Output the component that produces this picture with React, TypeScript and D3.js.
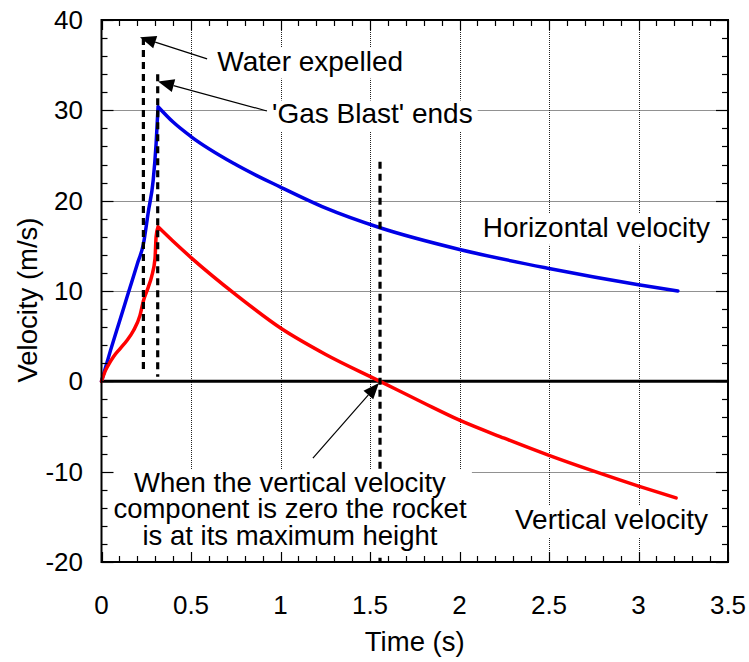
import React, { useEffect, useRef } from 'react';
import * as d3 from 'd3';

const W = 749, H = 662;

// Horizontal velocity (blue): powered phase, then coasting phase
const horizRiseTime = [0, 0.05, 0.1, 0.15, 0.2, 0.234, 0.261, 0.289, 0.305, 0.316];
const horizRiseVel = [0, 3.4, 6.6, 9.8, 13.0, 15.2, 18.7, 22.3, 26.3, 30.4];
const horizFallTime = [0.316, 0.4, 0.5, 0.75, 1.0, 1.25, 1.556, 2.0, 2.5, 3.0, 3.22];
const horizFallVel = [30.4, 28.7, 27.1, 24.0, 21.5, 19.2, 17.0, 14.6, 12.5, 10.7, 10.0];

// Vertical velocity (red): powered phase, then coasting phase
const vertRiseTime = [0, 0.02, 0.038, 0.066, 0.103, 0.141, 0.178, 0.215, 0.234, 0.261, 0.28, 0.299, 0.305, 0.316];
const vertRiseVel = [0, 1.1, 1.8, 2.7, 3.6, 4.5, 5.6, 7.3, 8.9, 10.4, 11.6, 13.6, 16.0, 17.1];
const vertFallTime = [0.316, 0.4, 0.5, 0.75, 1.0, 1.25, 1.556, 1.8, 2.0, 2.25, 2.5, 2.75, 3.0, 3.21];
const vertFallVel = [17.1, 15.5, 13.7, 9.6, 5.9, 3.0, 0, -2.4, -4.3, -6.3, -8.2, -9.95, -11.6, -12.9];

// Event markers (dashed verticals): time, top value, bottom value
const markerTime = [0.234, 0.314, 1.556];
const markerTop = [38, 34, 24.3];
const markerBottom = [1, 0.5, -20];

const xTicks = [0, 0.5, 1, 1.5, 2, 2.5, 3, 3.5];
const yTicks = [-20, -10, 0, 10, 20, 30, 40];

const xLabel = 'Time (s)';
const yLabel = 'Velocity (m/s)';

export default function App() {
  const ref = useRef<SVGSVGElement>(null);

  useEffect(() => {
    const svg = d3.select(ref.current);
    svg.selectAll('*').remove();
    const L = 101.5, R = 728, T = 20, B = 562;
    const x = d3.scaleLinear().domain([0, 3.5]).range([L, R]);
    const y = d3.scaleLinear().domain([-20, 40]).range([B, T]);
    const px = (v: number) => Math.round(v) + 0.5;
    const font = "'Liberation Sans', Arial, sans-serif";
    const fsTick = 26;
    const fsAnn = 28;

    svg.append('rect').attr('width', W).attr('height', H).attr('fill', 'white');

    // grid
    const grid = svg.append('g').attr('stroke', '#222').attr('stroke-width', 1).attr('stroke-dasharray', '1,1');
    xTicks.slice(1, -1).forEach(t => {
      grid.append('line').attr('x1', px(x(t))).attr('x2', px(x(t))).attr('y1', T).attr('y2', B);
    });
    yTicks.slice(1, -1).forEach(v => {
      if (v === 0) return;
      grid.append('line').attr('x1', L).attr('x2', R).attr('y1', px(y(v))).attr('y2', px(y(v)));
    });

    // zero line
    svg.append('line').attr('x1', L).attr('x2', R).attr('y1', y(0)).attr('y2', y(0))
      .attr('stroke', 'black').attr('stroke-width', 3);

    const line = d3.line<[number, number]>().x(d => x(d[0])).y(d => y(d[1])).curve(d3.curveMonotoneX);
    const series = [
      { t: [horizRiseTime, horizFallTime], v: [horizRiseVel, horizFallVel], c: '#0000e6' },
      { t: [vertRiseTime, vertFallTime], v: [vertRiseVel, vertFallVel], c: '#ff0000' },
    ];
    series.forEach(s => {
      const d = s.t.map((ts, k) => line(ts.map((t, i) => [t, s.v[k][i]]) as any)).join('');
      svg.append('path').attr('d', d).attr('fill', 'none').attr('stroke', s.c)
        .attr('stroke-width', 3.5).attr('stroke-linejoin', 'round').attr('stroke-linecap', 'round');
    });

    // dashed markers
    markerTime.forEach((t, i) => {
      svg.append('line').attr('x1', x(t)).attr('x2', x(t)).attr('y1', y(markerTop[i])).attr('y2', y(markerBottom[i]))
        .attr('stroke', 'black').attr('stroke-width', 3.2).attr('stroke-dasharray', '7,5');
    });

    // annotations: text with white background boxes
    const addText = (lines: string[], tx: number, ty: number, anchor: string, lh: number, fs: number) => {
      const g = svg.append('g');
      const txt = g.append('text').attr('font-family', font).attr('font-size', fs)
        .attr('text-anchor', anchor).attr('fill', 'black');
      lines.forEach((s, i) => {
        txt.append('tspan').attr('x', x(tx)).attr('y', y(ty) + i * lh).text(s);
      });
      const bb = (txt.node() as SVGTextElement).getBBox();
      g.insert('rect', 'text').attr('x', bb.x - 5).attr('y', bb.y + 2).attr('width', bb.width + 10)
        .attr('height', bb.height).attr('fill', 'white');
    };
    addText(['Water expelled'], 0.647, 34.4, 'start', 0, fsAnn);
    addText(["'Gas Blast' ends"], 0.953, 28.55, 'start', 0, fsAnn);
    addText(['Horizontal velocity'], 2.13, 16.0, 'start', 0, fsAnn);
    addText(['Vertical velocity'], 2.31, -16.35, 'start', 0, fsAnn);
    addText(['When the vertical velocity', 'component is zero the rocket', 'is at its maximum height'], 1.053, -12.25, 'middle', 26.5, 27.5);

    // arrows
    const arrows = [
      { from: [0.59, 35.7], to: [0.215, 38.1] },
      { from: [0.924, 29.93], to: [0.316, 33.2] },
      { from: [1.181, -8.49], to: [1.55, -0.18] },
    ];
    arrows.forEach(a => {
      const x1 = x(a.from[0]), y1 = y(a.from[1]), x2 = x(a.to[0]), y2 = y(a.to[1]);
      const ang = Math.atan2(y2 - y1, x2 - x1);
      const hl = 16, hw = 6.5;
      const bx = x2 - hl * Math.cos(ang), by = y2 - hl * Math.sin(ang);
      svg.append('line').attr('x1', x1).attr('y1', y1).attr('x2', bx).attr('y2', by)
        .attr('stroke', 'black').attr('stroke-width', 1.2);
      const p1 = [bx + hw * Math.sin(ang), by - hw * Math.cos(ang)];
      const p2 = [bx - hw * Math.sin(ang), by + hw * Math.cos(ang)];
      svg.append('path').attr('d', `M${x2},${y2}L${p1[0]},${p1[1]}L${p2[0]},${p2[1]}Z`).attr('fill', 'black');
    });

    // frame and ticks
    const fr = svg.append('g').attr('stroke', 'black');
    const minorX = d3.range(0, 3.5001, 0.1);
    const minorY = d3.range(-20, 40.001, 2);
    minorX.forEach(t => {
      const major = Math.abs(t * 2 - Math.round(t * 2)) < 1e-6;
      const len = major ? 10 : 6;
      fr.append('line').attr('x1', px(x(t))).attr('x2', px(x(t))).attr('y1', B).attr('y2', B - len).attr('stroke-width', 1.2);
      fr.append('line').attr('x1', px(x(t))).attr('x2', px(x(t))).attr('y1', T).attr('y2', T + len).attr('stroke-width', 1.2);
    });
    minorY.forEach(v => {
      const major = Math.abs(v % 10) < 1e-6;
      const len = major ? 12 : 6;
      fr.append('line').attr('x1', L).attr('x2', L + len).attr('y1', px(y(v))).attr('y2', px(y(v))).attr('stroke-width', 1.2);
      fr.append('line').attr('x1', R).attr('x2', R - len).attr('y1', px(y(v))).attr('y2', px(y(v))).attr('stroke-width', 1.2);
    });
    fr.append('rect').attr('x', L).attr('y', T).attr('width', R - L).attr('height', B - T)
      .attr('fill', 'none').attr('stroke-width', 2);

    // tick labels
    xTicks.forEach(t => {
      svg.append('text').attr('x', x(t)).attr('y', 614).attr('text-anchor', 'middle')
        .attr('font-family', font).attr('font-size', fsTick).text(String(t));
    });
    yTicks.forEach(v => {
      svg.append('text').attr('x', 83).attr('y', y(v)).attr('dy', '0.35em').attr('text-anchor', 'end')
        .attr('font-family', font).attr('font-size', fsTick).text(String(v));
    });
    svg.append('text').attr('x', (L + R) / 2).attr('y', 651).attr('text-anchor', 'middle')
      .attr('font-family', font).attr('font-size', 27.5).text(xLabel);
    svg.append('text').attr('transform', `translate(37,${(T + B) / 2 + 9}) rotate(-90)`).attr('text-anchor', 'middle')
      .attr('font-family', font).attr('font-size', 27.5).text(yLabel);
  }, []);

  return (
    <svg ref={ref} width={W} height={H} style={{ position: 'absolute', left: 0, top: 0 }} />
  );
}
